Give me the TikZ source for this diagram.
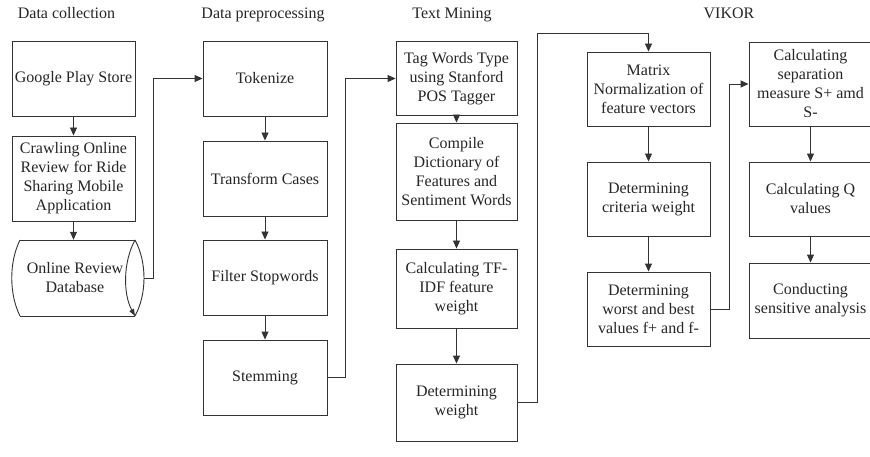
\documentclass[tikz,border=0pt]{standalone}
\usepackage{fontspec}
\setmainfont{Liberation Serif}
\usetikzlibrary{arrows.meta}
\definecolor{linec}{HTML}{333333}
\definecolor{textc}{HTML}{262626}
\begin{document}
\begin{tikzpicture}[x=1pt,y=-1pt,
  txt/.style={font=\fontsize{16}{19}\selectfont, text=textc},
  box/.style 2 args={txt, draw=linec, line width=0.9pt, minimum width=#1, minimum height=#2, align=center, inner sep=0pt},
  title/.style={txt, anchor=base, inner sep=0pt},
  conn/.style={draw=linec, line width=0.9pt, -{Triangle[length=8pt,width=7pt]}},
  line/.style={draw=linec, line width=0.9pt}]
\fill[white] (0,0) rectangle (870,457);
\useasboundingbox (0,0) rectangle (870,457);

% titles
\node[title] (t1) at (66.5,19) {Data collection};
\node[title] (t2) at (263,19) {Data preprocessing};
\node[title] (t3) at (452,19) {Text Mining};
\node[title] (t4) at (729,19) {VIKOR};

% data collection
\node[box={123pt}{75pt}] (gps) at (73.5,78.5) {Google Play Store};
\node[box={123pt}{85pt}] (crawl) at (73.5,178.5) {Crawling Online\\Review for Ride\\Sharing Mobile\\Application};
\node[txt, align=center, minimum width=120pt, minimum height=76pt, inner sep=0pt] (db) at (75,278) {Online Review\\Database};
\draw[line] (20,240) .. controls (9,262) and (9,294) .. (20,316);
\draw[line] (20,240) -- (135,240);
\draw[line] (20,316) -- (135,316);
\draw[line] (135,240) .. controls (147,262) and (147,294) .. (135,316);
\draw[line, -{Triangle[length=7pt,width=5pt]}] (135,240) .. controls (123,262) and (123,294) .. (135,316);
\coordinate (dbr) at (144,278);
\coordinate (j1) at (153,278);

% data preprocessing
\node[box={124pt}{75pt}] (tok) at (265,78.5) {Tokenize};
\node[box={124pt}{75pt}] (trans) at (265,178.5) {Transform Cases};
\node[box={124pt}{75pt}] (filt) at (265,277.5) {Filter Stopwords};
\node[box={124pt}{75pt}] (stem) at (265,377.5) {Stemming};
\coordinate (j2) at (345.7,78.5);

% text mining
\node[box={121pt}{74pt}] (tag) at (456.5,78.5) {Tag Words Type\\using Stanford\\POS Tagger};
\node[box={121pt}{97pt}] (comp) at (456.5,171.5) {Compile\\Dictionary of\\Features and\\Sentiment Words};
\node[box={121pt}{79pt}] (tfidf) at (456.5,288.5) {Calculating TF-\\IDF feature\\weight};
\node[box={121pt}{77pt}] (detw) at (456.5,402.5) {Determining\\weight};
\coordinate (j3) at (537,33);

% VIKOR
\node[box={123pt}{74pt}] (mat) at (648.5,89) {Matrix\\Normalization of\\feature vectors};
\node[box={123pt}{74pt}] (crit) at (648.5,199) {Determining\\criteria weight};
\node[box={123pt}{74pt}] (worst) at (648.5,309) {Determining\\worst and best\\values f+ and f-};
\node[box={123pt}{84pt}] (sep) at (810.5,84) {Calculating\\separation\\measure S+ amd\\S-};
\node[box={123pt}{74pt}] (qv) at (810.5,199) {Calculating Q\\values};
\node[box={123pt}{75pt}] (cond) at (810.5,300.5) {Conducting\\sensitive analysis};
\coordinate (j4) at (729,84);

% connectors
\draw[conn] (gps) -- (crawl);
\draw[conn] (crawl.south) -- (crawl.south |- db.north);
\draw[conn] (dbr) -- (j1) |- (tok.west);
\draw[conn] (tok) -- (trans);
\draw[conn] (trans) -- (filt);
\draw[conn] (filt) -- (stem);
\draw[conn] (stem.east) -| (j2) -- (tag.west);
\draw[conn] (tag) -- (comp);
\draw[conn] (comp) -- (tfidf);
\draw[conn] (tfidf) -- (detw);
\draw[conn] (detw.east) -| (j3) -| (mat.north);
\draw[conn] (mat) -- (crit);
\draw[conn] (crit) -- (worst);
\draw[conn] (worst.east) -| (j4) -- (sep.west);
\draw[conn] (sep) -- (qv);
\draw[conn] (qv) -- (cond);
\end{tikzpicture}
\end{document}
